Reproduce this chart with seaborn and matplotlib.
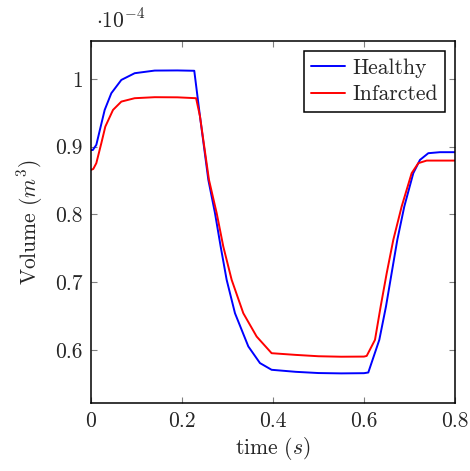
import matplotlib
matplotlib.use("Agg")
import matplotlib.pyplot as plt
import seaborn as sns
import pandas as pd
from matplotlib.ticker import FuncFormatter, MultipleLocator

# Data (volume in units of 1e-4 m^3)
healthy_t = [0.0, 0.004, 0.0117, 0.0213, 0.0301, 0.0447, 0.0667, 0.096, 0.14, 0.19, 0.227,
             0.2395, 0.2579, 0.2725, 0.285, 0.2982, 0.3165, 0.3458, 0.3714, 0.397,
             0.45, 0.50, 0.55, 0.60, 0.6095,
             0.6337, 0.6484, 0.6608, 0.6733, 0.6886, 0.7084, 0.7231, 0.7414, 0.767, 0.80]
healthy_v = [0.895, 0.895, 0.9026, 0.9296, 0.9542, 0.9789, 0.9985, 1.0084, 1.0123, 1.0125, 1.012,
             0.945, 0.851, 0.802, 0.7525, 0.7033, 0.654, 0.605, 0.5804, 0.5705,
             0.5675, 0.5657, 0.5652, 0.5655, 0.5665,
             0.6147, 0.664, 0.7132, 0.7624, 0.8115, 0.8608, 0.8804, 0.8903, 0.8918, 0.8918]
infarct_t = [0.0, 0.005, 0.0117, 0.0227, 0.0315, 0.0484, 0.0667, 0.096, 0.14, 0.19, 0.231,
             0.2395, 0.2593, 0.2762, 0.2908, 0.3092, 0.3348, 0.3641, 0.397,
             0.45, 0.50, 0.55, 0.60, 0.606,
             0.6242, 0.6367, 0.65, 0.6645, 0.6828, 0.7048, 0.7194, 0.7378, 0.80]
infarct_v = [0.8657, 0.867, 0.8756, 0.905, 0.9296, 0.9542, 0.9665, 0.9715, 0.973, 0.9728, 0.9715,
             0.945, 0.851, 0.802, 0.7525, 0.7033, 0.654, 0.6196, 0.595,
             0.5925, 0.5905, 0.5898, 0.590, 0.591,
             0.6147, 0.664, 0.7132, 0.7624, 0.8115, 0.8608, 0.8756, 0.8794, 0.8794]
series_names = ["Healthy", "Infarcted"]
series_colors = ["#0000ff", "#ff0000"]

sns.set_style("ticks")
plt.rcParams["font.family"] = ["cmr10", "DejaVu Serif"]
plt.rcParams["mathtext.fontset"] = "cm"
plt.rcParams["axes.unicode_minus"] = False
plt.rcParams["axes.formatter.use_mathtext"] = True

df = pd.concat([
    pd.DataFrame({"t": healthy_t, "v": healthy_v, "series": series_names[0]}),
    pd.DataFrame({"t": infarct_t, "v": infarct_v, "series": series_names[1]}),
])

fs = 15.5
fig = plt.figure(figsize=(4.70, 4.71), dpi=100)
ax = fig.add_axes([0.1936, 0.1437, 0.968 - 0.1936, 0.913 - 0.1437])
sns.lineplot(data=df, x="t", y="v", hue="series", palette=series_colors,
             estimator=None, sort=False, linewidth=1.4, ax=ax)

ax.set_xlim(0, 0.8)
ax.set_ylim(0.521, 1.056)
ax.xaxis.set_major_locator(MultipleLocator(0.2))
ax.yaxis.set_major_locator(MultipleLocator(0.1))
fmt = FuncFormatter(lambda v, p: "%g" % round(v, 6))
ax.xaxis.set_major_formatter(fmt)
ax.yaxis.set_major_formatter(fmt)
ax.tick_params(direction="in", length=4.5, width=0.8, color="#808080",
               top=True, right=True, labelsize=fs, pad=6)
for s in ax.spines.values():
    s.set_linewidth(1.1)
    s.set_color("black")

ax.set_xlabel("time ($s$)", fontsize=fs, labelpad=3)
ax.set_ylabel("Volume ($m^3$)", fontsize=fs, labelpad=7)
ax.text(0.015, 1.025, r"$\cdot 10^{-4}$", transform=ax.transAxes,
        fontsize=fs, ha="left", va="bottom")

leg = ax.legend(loc="upper right", fontsize=fs, frameon=True, fancybox=False,
                edgecolor="black", framealpha=1, handlelength=1.55,
                borderaxespad=0.45, borderpad=0.35, labelspacing=0.32,
                handletextpad=0.35)
leg.get_frame().set_linewidth(1.1)
leg.set_title(None)

fig.savefig("out.png", dpi=100)
